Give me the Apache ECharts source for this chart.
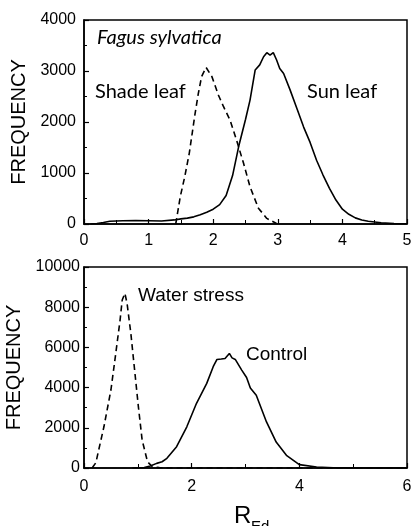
<!DOCTYPE html>
<html><head><meta charset="utf-8">
<script src="https://cdn.jsdelivr.net/npm/echarts@6/dist/echarts.min.js"></script>
<style>html,body{margin:0;padding:0;background:#fff}#c{width:414px;height:526px}</style>
</head><body><div id="c"></div>
<script>
// Top panel: Fagus sylvatica
var sunX = [0.1,0.2,0.3,0.4,0.5,0.6,0.8,1.0,1.2,1.4,1.5,1.6,1.7,1.8,1.9,2.0,2.1,2.2,2.3,2.4,2.5,2.57,2.65,2.72,2.78,2.83,2.88,2.93,2.98,3.03,3.09,3.19,3.3,3.4,3.5,3.6,3.7,3.8,3.9,4.0,4.1,4.2,4.3,4.4,4.5,4.6,4.8,5.0];
var sunY = [0,10,30,55,60,65,70,65,60,80,100,115,140,180,230,290,380,560,950,1550,2050,2430,3020,3120,3280,3360,3310,3360,3220,3050,2950,2630,2250,1900,1600,1250,960,700,470,290,190,120,80,55,40,25,10,5];
var shadeX = [1.42,1.49,1.56,1.63,1.72,1.77,1.82,1.89,1.98,2.08,2.16,2.26,2.36,2.47,2.57,2.70,2.83,2.98];
var shadeY = [0,535,930,1390,2170,2560,2890,3070,2890,2530,2300,2040,1650,1190,730,310,110,10];
// Bottom panel
var waterX = [0.15,0.22,0.37,0.50,0.59,0.67,0.71,0.76,0.80,0.87,0.94,1.01,1.08,1.18,1.27,1.4,1.6,2.0,3.0,4.0,5.0,6.0];
var waterY = [0,260,2050,3880,5700,7360,8360,8690,8190,6700,4880,3050,1390,310,65,20,0,0,0,0,0,0];
var controlX = [0.9,1.12,1.23,1.35,1.45,1.54,1.72,1.91,2.09,2.28,2.40,2.47,2.55,2.62,2.70,2.75,2.81,2.93,3.02,3.09,3.2,3.39,3.57,3.76,4.0,4.32,4.63,5.0,6.0];
var controlY = [0,20,100,230,310,480,1060,2050,3220,4210,5040,5400,5420,5450,5700,5480,5400,4870,4500,3980,3620,2290,1290,630,170,50,15,5,0];

function pairs(xs, ys){ return xs.map(function(x,i){ return [x, ys[i]]; }); }

var tickFont = '"Liberation Sans", Arial, sans-serif';
function plain(v){ return String(v); }
function yAx(gi, max, interval, gap, margin){
  return {
    type:'value', gridIndex:gi, min:0, max:max, interval:interval,
    name:'FREQUENCY', nameLocation:'middle', nameGap:gap,
    nameTextStyle:{fontFamily:tickFont, fontSize:20, color:'#000'},
    axisLine:{show:true, lineStyle:{color:'#000', width:1.5}},
    axisTick:{show:true, inside:true, length:5, lineStyle:{color:'#000', width:1.2}},
    minorTick:{show:true, splitNumber:2, length:3, lineStyle:{color:'#000', width:1}},
    splitLine:{show:false},
    axisLabel:{fontFamily:tickFont, fontSize:16, color:'#000', margin:margin, formatter:plain}
  };
}
function xAx(gi, max, interval, margin){
  return {
    type:'value', gridIndex:gi, min:0, max:max, interval:interval,
    axisLine:{show:true, onZero:false, lineStyle:{color:'#000', width:1.5}},
    axisTick:{show:true, inside:true, length:5, lineStyle:{color:'#000', width:1.2}},
    minorTick:{show:true, splitNumber:2, length:4, lineStyle:{color:'#000', width:1}},
    splitLine:{show:false},
    axisLabel:{fontFamily:tickFont, fontSize:16, color:'#000', margin:margin, formatter:plain}
  };
}
function ser(name, xi, xs, ys, dashed){
  return {
    name:name, type:'line', xAxisIndex:xi, yAxisIndex:xi,
    data:pairs(xs, ys), showSymbol:false, symbol:'none', smooth:false,
    lineStyle:{color:'#000', width:1.6, type: dashed ? [6,4] : 'solid'},
    animation:false
  };
}

var chart = echarts.init(document.getElementById('c'), null, {renderer:'canvas'});
chart.setOption({
  animation:false,
  backgroundColor:'#fff',
  grid:[
    {left:84, top:20, width:323, height:204, show:true, borderColor:'#000', borderWidth:1.5, backgroundColor:'transparent', containLabel:false, outerBoundsMode:'none'},
    {left:84, top:267, width:323, height:201, show:true, borderColor:'#000', borderWidth:1.5, backgroundColor:'transparent', containLabel:false, outerBoundsMode:'none'}
  ],
  xAxis:[ xAx(0, 5, 1, 9), xAx(1, 6, 2, 11) ],
  yAxis:[ yAx(0, 4000, 1000, 53, 8), yAx(1, 10000, 2000, 53, 4) ],
  series:[
    ser('Sun leaf', 0, sunX, sunY, false),
    ser('Shade leaf', 0, shadeX, shadeY, true),
    ser('Control', 1, controlX, controlY, false),
    ser('Water stress', 1, waterX, waterY, true)
  ],
  graphic:[
    {type:'text', left:97, top:28, style:{text:'Fagus sylvatica', font:'italic 20px Lato, "Open Sans", sans-serif', fill:'#000'}},
    {type:'text', left:95, top:82, style:{text:'Shade leaf', font:'20px Lato, "Open Sans", sans-serif', fill:'#000'}},
    {type:'text', left:307, top:82, style:{text:'Sun leaf', font:'20px Lato, "Open Sans", sans-serif', fill:'#000'}},
    {type:'text', left:138, top:286, style:{text:'Water stress', font:'19px "Liberation Sans", Arial, sans-serif', fill:'#000'}},
    {type:'text', left:246, top:345, style:{text:'Control', font:'19px "Liberation Sans", Arial, sans-serif', fill:'#000'}},
    {type:'text', left:234, top:504, style:{text:'R', font:'24px "Liberation Sans", Arial, sans-serif', fill:'#000'}},
    {type:'text', left:251, top:519, style:{text:'Ed', font:'15px "Liberation Sans", Arial, sans-serif', fill:'#000'}}
  ]
});
</script>
</body></html>
